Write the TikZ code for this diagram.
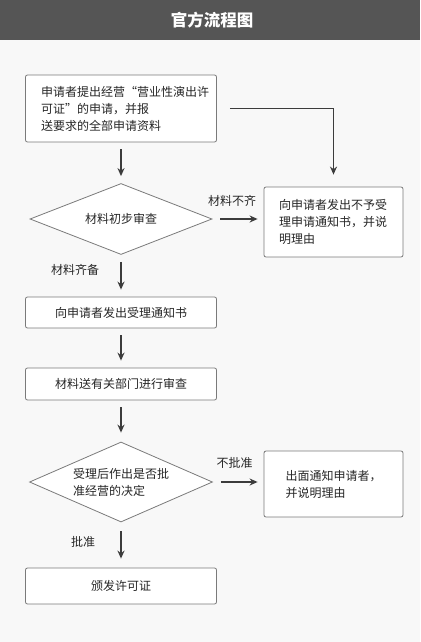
\documentclass[tikz,border=0pt]{standalone}
\usepackage{fontspec}
\setmainfont{Noto Sans CJK SC}[RawFeature=+fwid]
\usetikzlibrary{arrows.meta}
\usetikzlibrary{shapes.geometric}
\definecolor{headgray}{HTML}{555555}
\definecolor{pagegray}{HTML}{F8F8F8}
\definecolor{framegray}{HTML}{7A7A7A}
\definecolor{arrowgray}{HTML}{3C3C3C}
\tikzset{
  box/.style={draw=framegray,line width=0.8pt,fill=white,rounded corners=2pt,
    minimum width=191pt,inner sep=0pt,text=black!85,font=\fontsize{12}{17}\selectfont},
  sidebox/.style={box,minimum width=139pt,align=left},
  check/.style={diamond,aspect=2.5,draw=framegray,line width=0.8pt,fill=white,inner sep=0pt,
    text=black!85,font=\fontsize{12}{17}\selectfont},
  flow/.style={line width=1.5pt,draw=arrowgray,-{Stealth[length=8pt,width=7pt]},
    shorten <=7pt,shorten >=7pt},
  tag/.style={text=black!85,font=\fontsize{12}{14}\selectfont}
}
\begin{document}
\begin{tikzpicture}[x=1pt,y=-1pt]
    \fill[pagegray] (0,0) rectangle (420,642);
    \useasboundingbox (0,0) rectangle (420,642);
    \fill[headgray] (0,0) rectangle (420,40);
    \node (title) at (212,20) [text=white,font=\fontsize{16.5}{18}\selectfont\bfseries] {官方流程图};
    % left column
    \node[box,minimum height=67pt,text width=160pt,align=left] (apply) at (121,108.5)
        {申请者提出经营“营业性演出许\\可证”的申请，并报\\送要求的全部申请资料};
    \node[check,minimum width=182pt,minimum height=71pt] (first) at (121,219) {材料初步审查};
    \node[box,minimum height=31pt] (accept) at (121,312.5) {向申请者发出受理通知书};
    \node[box,minimum height=32pt] (review) at (121,384) {材料送有关部门进行审查};
    \node[check,minimum width=183pt,minimum height=80pt,align=left] (decide) at (121,482)
        {受理后作出是否批\\准经营的决定};
    \node[box,minimum height=36pt] (grant) at (121,586) {颁发许可证};
    % right column
    \node[sidebox,minimum height=70pt,text width=109pt] (refuse) at (333.5,222)
        {向申请者发出不予受\\理申请通知书，并说\\明理由};
    \node[sidebox,minimum height=66pt,text width=96pt] (notify) at (333.5,484)
        {出面通知申请者，\\并说明理由};
    % labels
    \node[tag] (lack) at (232,201) {材料不齐};
    \node[tag] (full) at (75,270) {材料齐备};
    \node[tag] (deny) at (234.5,463) {不批准};
    \node[tag] (pass) at (83,542) {批准};
    \draw[flow] (apply) -- (first);
    \draw[flow] (first) -- (accept);
    \draw[flow] (accept) -- (review);
    \draw[flow,shorten >=9pt] (review) -- (decide);
    \draw[flow,shorten <=9pt,shorten >=9pt] (decide) -- (grant);
    \draw[flow,shorten <=8pt,shorten >=6pt] (first.east) -- (first.east -| refuse.west);
    \draw[flow,shorten <=8pt,shorten >=6pt] (decide.east) -- (decide.east -| notify.west);
    \draw[flow,shorten <=13pt,shorten >=12pt] (apply.east) -| (refuse.north);
\end{tikzpicture}
\end{document}
